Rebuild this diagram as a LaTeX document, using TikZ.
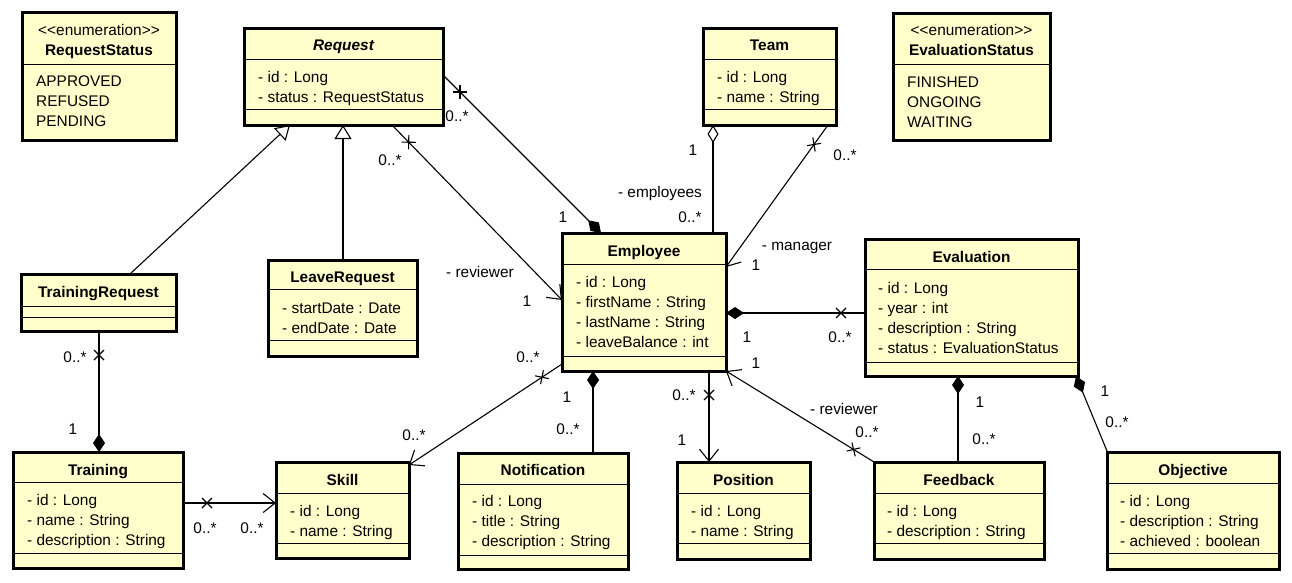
\documentclass[tikz,border=0pt]{standalone}
\usepackage{fontspec}
\setmainfont{Liberation Sans}
\usetikzlibrary{arrows.meta,calc,decorations.markings}
\definecolor{clsfill}{HTML}{FFFFCC}
\tikzset{
  clsbox/.style={draw=black, line width=3pt, fill=clsfill, inner sep=0pt, outer sep=0pt},
  sepline/.style={line width=1pt},
  txt/.style={inner sep=0pt, text height=11pt, text depth=0pt, font=\fontsize{15.4}{18}\selectfont},
  ttl/.style={txt, font=\fontsize{15.4}{18}\selectfont\bfseries},
  lbl/.style={txt},
  conn/.style={line width=1.1pt},
  xmark/.style={postaction={decorate}, decoration={markings, mark=at position 24pt with {\draw[arrows=-, line width=1.1pt] (-5,-5) -- (5,5) (-5,5) -- (5,-5);}}},
  opena/.style={-{Straight Barb[length=12pt,width=19pt,line width=1.1pt]}},
  compo/.style={-{Diamond[length=18pt,width=12pt]}},
  aggr/.style={-{Diamond[open,length=18pt,width=11pt,line width=1.1pt]}},
  gen/.style={-{Triangle[open,length=14pt,width=17pt,line width=1.1pt]}}
}
\newcommand{\umlbox}[7]{%
  \node[clsbox, anchor=north west, minimum width={(#4)-(#2)}, minimum height={(#5)-(#3)}] (#1) at (#2,#3) {};
  \draw[sepline] (#2,#6) -- (#4,#6);
  \ifx\relax#7\relax\else\draw[sepline] (#2,#7) -- (#4,#7);\fi
}
\newcommand{\attrs}[4]{%
  \foreach \t [count=\i] in {#4} {\node[txt, anchor=west] (#1-\i) at (#2, {#3+20*(\i-1)}) {\t};}%
}
\begin{document}
\begin{tikzpicture}[x=1pt,y=-1pt]
\fill[white] (0,0) rectangle (1292,582);
\useasboundingbox (0,0) rectangle (1292,582);

% ---------- classes ----------
\umlbox{rs}{22}{12}{176}{140}{64}{}
\node[txt] (rs-st) at (99,30) {<\kern0pt<enumeration>\kern0pt>};
\node[ttl] (rs-t) at (99,50) {RequestStatus};
\attrs{rs}{36}{81}{APPROVED,REFUSED,PENDING}

\umlbox{es}{893}{13}{1050}{140}{64}{}
\node[txt] (es-st) at (971.5,30) {<\kern0pt<enumeration>\kern0pt>};
\node[ttl] (es-t) at (971.5,50) {EvaluationStatus};
\attrs{es}{907}{81.5}{FINISHED,ONGOING,WAITING}

\umlbox{req}{244}{28}{443}{125}{59}{109}
\node[ttl, font=\fontsize{15.4}{18}\selectfont\bfseries\itshape] (req-t) at (343.5,45) {Request};
\attrs{req}{258}{77}{- id : Long,- status : RequestStatus}

\umlbox{team}{703}{28}{836}{125}{59}{109}
\node[ttl] (team-t) at (769.5,45) {Team};
\attrs{team}{717}{77}{- id : Long,- name : String}

\umlbox{emp}{562}{233}{726}{371}{264}{356}
\node[ttl] (emp-t) at (644,251) {Employee};
\attrs{emp}{576}{282}{- id : Long,- firstName : String,- lastName : String,- leaveBalance : int}

\umlbox{eval}{865}{239}{1078}{376}{269}{362}
\node[ttl] (eval-t) at (971.5,256.5) {Evaluation};
\attrs{eval}{878}{288}{- id : Long,- year : int,- description : String,- status : EvaluationStatus}

\umlbox{treq}{21}{274}{176}{331}{306}{317}
\node[ttl] (treq-t) at (98.5,291.5) {TrainingRequest};

\umlbox{lreq}{268}{260}{417}{356}{289}{340}
\node[ttl] (lreq-t) at (342.5,276.5) {LeaveRequest};
\attrs{lreq}{282}{308}{- startDate : Date,- endDate : Date}

\umlbox{train}{13}{452}{183}{568}{482}{553}
\node[ttl] (train-t) at (98,469.7) {Training};
\attrs{train}{27}{499.7}{- id : Long,- name : String,- description : String}

\umlbox{skill}{276}{462}{409}{558}{493}{543}
\node[ttl] (skill-t) at (342.5,479.7) {Skill};
\attrs{skill}{290}{510.7}{- id : Long,- name : String}

\umlbox{notif}{458}{453}{628}{569}{484}{555}
\node[ttl] (notif-t) at (543,469.7) {Notification};
\attrs{notif}{472}{501.3}{- id : Long,- title : String,- description : String}

\umlbox{pos}{677}{462}{810}{559}{493}{543}
\node[ttl] (pos-t) at (743.5,479.7) {Position};
\attrs{pos}{691}{511.3}{- id : Long,- name : String}

\umlbox{fb}{874}{462}{1044}{559}{493}{543}
\node[ttl] (fb-t) at (959,479.7) {Feedback};
\attrs{fb}{887}{511.3}{- id : Long,- description : String}

\umlbox{obj}{1107}{452}{1279}{569}{483}{553}
\node[ttl] (obj-t) at (1193,469.7) {Objective};
\attrs{obj}{1120}{501.3}{- id : Long,- description : String,- achieved : boolean}

% ---------- connectors ----------
\draw[conn, xmark, compo] ($(req.north east)+(0,47)$) -- ($(emp.north west)+(39,0)$);
\draw[conn, xmark, opena] ($(req.south west)+(148,0)$) -- ($(emp.north west)+(0,67)$);
\draw[conn, gen] ($(treq.north west)+(109,0)$) -- ($(req.south west)+(46,0)$);
\draw[conn, gen] ($(lreq.north west)+(75,0)$) -- ($(req.south west)+(99,0)$);
\draw[conn, aggr] ($(emp.north west)+(151,0)$) -- ($(team.south west)+(10,0)$);
\draw[conn, xmark, opena] ($(team.south west)+(125,0)$) -- ($(emp.north east)+(0,34)$);
\draw[conn, xmark, compo] ($(eval.north west)+(0,74)$) -- ($(emp.north east)+(0,80)$);
\draw[conn, xmark, opena] ($(emp.south west)+(0,-7)$) -- ($(skill.north east)+(0,3)$);
\draw[conn, compo] ($(notif.north west)+(135,0)$) -- ($(emp.south west)+(31,0)$);
\draw[conn, xmark, opena] ($(emp.south west)+(147,0)$) -- ($(pos.north west)+(32,0)$);
\draw[conn, xmark, opena] (fb.north west) -- (emp.south east);
\draw[conn, compo] ($(fb.north west)+(84,0)$) -- ($(eval.south west)+(93,0)$);
\draw[conn, compo] ($(obj.north west)+(0,-1)$) -- ($(eval.south east)+(-2,0)$);
\draw[conn, xmark, compo] ($(treq.south west)+(78,0)$) -- ($(train.north west)+(86,0)$);
\draw[conn, xmark, opena] ($(train.north east)+(0,51)$) -- ($(skill.north west)+(0,41)$);

% ---------- labels ----------
\node[lbl] (l1) at (457,116) {0..*};
\node[lbl] (l2) at (563,217) {1};
\node[lbl] (l3) at (390,160) {0..*};
\node[lbl] (l4) at (480,272) {- reviewer};
\node[lbl] (l5) at (527,301) {1};
\node[lbl] (l6) at (693,150) {1};
\node[lbl] (l7) at (660,192) {- employees};
\node[lbl] (l8) at (690,217) {0..*};
\node[lbl] (l9) at (845,155) {0..*};
\node[lbl] (l10) at (797,245) {- manager};
\node[lbl] (l11) at (756,265) {1};
\node[lbl] (l12) at (747,337) {1};
\node[lbl] (l13) at (840,337) {0..*};
\node[lbl] (l14) at (528,357) {0..*};
\node[lbl] (l15) at (414,435) {0..*};
\node[lbl] (l16) at (567,397) {1};
\node[lbl] (l17) at (568,429) {0..*};
\node[lbl] (l18) at (684,395) {0..*};
\node[lbl] (l19) at (682,440) {1};
\node[lbl] (l20) at (756,363) {1};
\node[lbl] (l21) at (844,409) {- reviewer};
\node[lbl] (l22) at (867,432) {0..*};
\node[lbl] (l23) at (980,402) {1};
\node[lbl] (l24) at (984,439) {0..*};
\node[lbl] (l25) at (1105,391) {1};
\node[lbl] (l26) at (1117,422) {0..*};
\node[lbl] (l27) at (75,357) {0..*};
\node[lbl] (l28) at (73,429) {1};
\node[lbl] (l29) at (205,528) {0..*};
\node[lbl] (l30) at (252,528) {0..*};
\end{tikzpicture}
\end{document}
